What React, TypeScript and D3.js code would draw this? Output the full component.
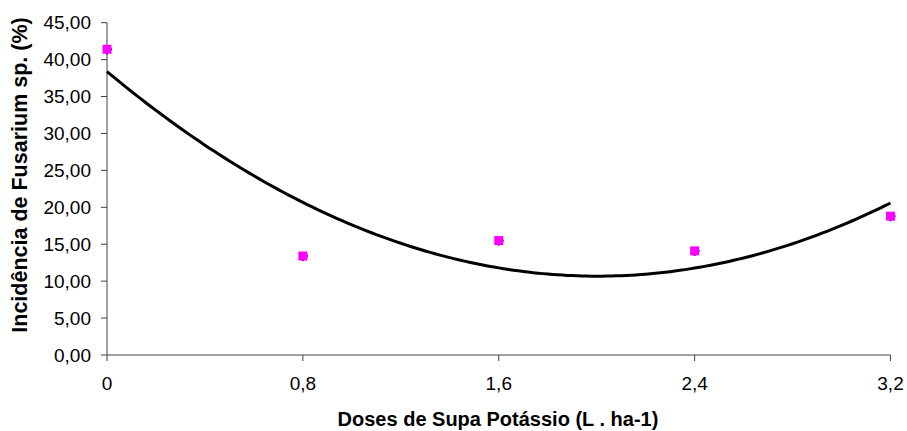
import React from "react";
import * as d3 from "d3";

const doses: number[] = [0, 0.8, 1.6, 2.4, 3.2];
const incidence: number[] = [41.4, 13.4, 15.5, 14.1, 18.8];
const xTicks: number[] = [0, 0.8, 1.6, 2.4, 3.2];
const xTickLabels: string[] = ["0", "0,8", "1,6", "2,4", "3,2"];
const yTicks: number[] = [0, 5, 10, 15, 20, 25, 30, 35, 40, 45];
const yTickLabels: string[] = ["0,00", "5,00", "10,00", "15,00", "20,00", "25,00", "30,00", "35,00", "40,00", "45,00"];
const xTitle = "Doses de Supa Potássio (L . ha-1)";
const yTitle = "Incidência de Fusarium sp. (%)";

// least-squares quadratic trendline fitted to the observed points
function fitQuadratic(xs: number[], ys: number[]): [number, number, number] {
  const n = xs.length;
  const s = [0, 0, 0, 0, 0];
  const t = [0, 0, 0];
  for (let i = 0; i < n; i++) {
    const xv = xs[i];
    for (let k = 0; k < 5; k++) s[k] += Math.pow(xv, k);
    for (let k = 0; k < 3; k++) t[k] += ys[i] * Math.pow(xv, k);
  }
  const M = [
    [s[0], s[1], s[2], t[0]],
    [s[1], s[2], s[3], t[1]],
    [s[2], s[3], s[4], t[2]],
  ];
  for (let i = 0; i < 3; i++) {
    for (let j = i + 1; j < 3; j++) {
      const f = M[j][i] / M[i][i];
      for (let k = i; k < 4; k++) M[j][k] -= f * M[i][k];
    }
  }
  const c = [0, 0, 0];
  for (let i = 2; i >= 0; i--) {
    let v = M[i][3];
    for (let k = i + 1; k < 3; k++) v -= M[i][k] * c[k];
    c[i] = v / M[i][i];
  }
  return [c[0], c[1], c[2]];
}

export default function App() {
  const W = 907, H = 431;
  const x = d3.scaleLinear().domain([0, 3.2]).range([107, 890.5]);
  const y = d3.scaleLinear().domain([0, 45]).range([355, 22.7]);
  const [a, b, c] = fitQuadratic(doses, incidence);
  const samples = d3.range(0, 3.2001, 0.02);
  const line = d3
    .line<number>()
    .x((d) => x(d))
    .y((d) => y(a + b * d + c * d * d));
  const axisColor = "#404040";
  const font = "'Liberation Sans', Arial, sans-serif";
  return (
    <svg
      width={W}
      height={H}
      style={{ position: "absolute", left: 0, top: 0, display: "block", background: "#fff" }}
      fontFamily={font}
    >
      {/* y axis */}
      <line x1={x(0)} x2={x(0)} y1={y(45)} y2={y(0)} stroke={axisColor} strokeWidth={1} />
      {yTicks.map((t, i) => (
        <g key={"y" + i}>
          <line x1={x(0) - 6} x2={x(0)} y1={y(t)} y2={y(t)} stroke={axisColor} strokeWidth={1} />
          <text x={91} y={y(t)} dy="0.35em" textAnchor="end" fontSize={19} fill="#000">
            {yTickLabels[i]}
          </text>
        </g>
      ))}
      {/* x axis */}
      <line x1={x(0)} x2={x(3.2)} y1={y(0)} y2={y(0)} stroke={axisColor} strokeWidth={1} />
      {xTicks.map((t, i) => (
        <g key={"x" + i}>
          <line x1={x(t)} x2={x(t)} y1={y(0)} y2={y(0) + 6} stroke={axisColor} strokeWidth={1} />
          <text x={x(t)} y={390} textAnchor="middle" fontSize={19} fill="#000">
            {xTickLabels[i]}
          </text>
        </g>
      ))}
      {/* trendline */}
      <path d={line(samples) || ""} fill="none" stroke="#000" strokeWidth={3} />
      {/* points */}
      {doses.map((d, i) => (
        <g key={"p" + i}>
          <rect x={x(d) + 3} y={y(incidence[i]) - 1} width={2} height={2} fill="#000080" />
          <rect x={x(d) - 1} y={y(incidence[i]) + 3} width={2} height={2} fill="#000080" />
          <rect x={x(d) - 4.5} y={y(incidence[i]) - 4.5} width={9} height={9} fill="#ff00ff" />
        </g>
      ))}
      {/* titles */}
      <text x={498} y={426} textAnchor="middle" fontSize={20} fontWeight="bold" fill="#000">
        {xTitle}
      </text>
      <text
        transform={`translate(27,175) rotate(-90)`}
        textAnchor="middle"
        fontSize={21.5}
        fontWeight="bold"
        fill="#000"
      >
        {yTitle}
      </text>
    </svg>
  );
}
